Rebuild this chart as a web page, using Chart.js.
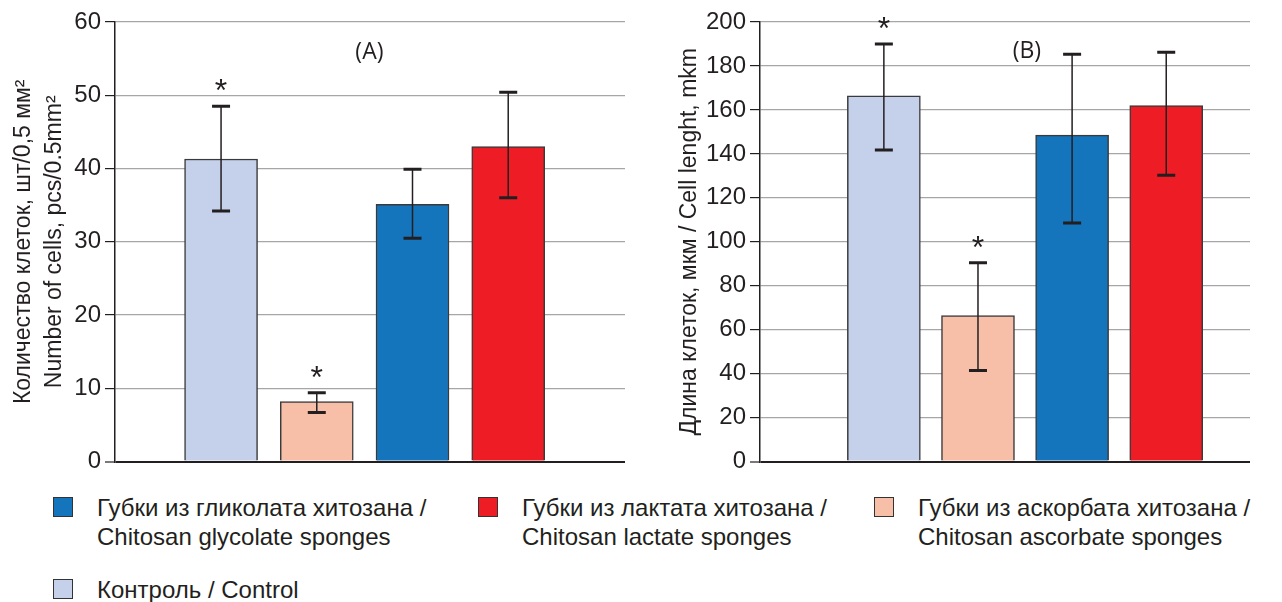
<!DOCTYPE html>
<html>
<head>
<meta charset="utf-8">
<script src="https://cdn.jsdelivr.net/npm/chart.js@4.4.0/dist/chart.umd.min.js"></script>
<style>
  body { margin: 0; background: #fff; font-family: "Liberation Sans", Arial, sans-serif; color: #231f20; }
  #wrap { position: relative; width: 1282px; height: 602px; }
  .box { position: absolute; top: 0; height: 480px; }
  #boxA { left: 0; width: 640px; }
  #boxB { left: 640px; width: 642px; }
  .leg { position: absolute; font-size: 24px; line-height: 29px; white-space: nowrap; }
  .leg i { position: absolute; left: -44px; top: 4px; width: 18px; height: 18px; border: 1.5px solid #333; }
</style>
</head>
<body>
<div id="wrap">
  <div class="box" id="boxA"><canvas id="chartA"></canvas></div>
  <div class="box" id="boxB"><canvas id="chartB"></canvas></div>
  <div class="leg" style="left:97px; top:493px;"><i style="background:#1474bc"></i>Губки из гликолата хитозана /<br>Chitosan glycolate sponges</div>
  <div class="leg" style="left:522px; top:493px;"><i style="background:#ee1c25"></i>Губки из лактата хитозана /<br>Chitosan lactate sponges</div>
  <div class="leg" style="left:918px; top:493px;"><i style="background:#f8bfa8"></i>Губки из аскорбата хитозана /<br>Chitosan ascorbate sponges</div>
  <div class="leg" style="left:97px; top:575px;"><i style="background:#c5d0ea"></i>Контроль / Control</div>
</div>
<script>
// groups in the order they stand on the x axis
const categories = ['Контроль', 'Аскорбат', 'Гликолат', 'Лактат'];
const positions = [1, 2, 3, 4];
const barColors = ['#c5d0ea', '#f8bfa8', '#1474bc', '#ee1c25'];

// (A) number of cells, pcs/0.5mm2
const countMean = [41.3, 8.2, 35.1, 43.0];
const countHigh = [48.5, 9.4, 39.9, 50.4];
const countLow = [34.2, 6.7, 30.5, 36.0];
const countStar = [true, true, false, false];
const countTicks = [0, 10, 20, 30, 40, 50, 60];

// (B) cell length, mkm
const lengthMean = [166.4, 66.4, 148.5, 162.0];
const lengthHigh = [190.0, 90.5, 185.3, 186.2];
const lengthLow = [141.8, 41.4, 108.5, 130.3];
const lengthStar = [true, true, false, false];
const lengthTicks = [0, 20, 40, 60, 80, 100, 120, 140, 160, 180, 200];

const ink = '#231f20';

// error bars, asterisks and the panel letter
const extras = {
  id: 'extras',
  afterDatasetsDraw(chart, args, opts) {
    const c = chart.ctx, xs = chart.scales.x, ys = chart.scales.y;
    c.save();
    opts.high.forEach((h, i) => {
      const x = xs.getPixelForValue(positions[i]);
      const top = ys.getPixelForValue(h);
      const bot = ys.getPixelForValue(opts.low[i]);
      c.strokeStyle = ink;
      c.lineWidth = 1.5;
      c.beginPath(); c.moveTo(x, top); c.lineTo(x, bot); c.stroke();
      c.lineWidth = 3;
      c.beginPath();
      c.moveTo(x - 9, top); c.lineTo(x + 9, top);
      c.moveTo(x - 9, bot); c.lineTo(x + 9, bot);
      c.stroke();
      if (opts.star[i]) {
        c.fillStyle = ink;
        c.font = '32px "Liberation Sans", Arial, sans-serif';
        c.textAlign = 'center';
        c.textBaseline = 'alphabetic';
        c.fillText('*', x, top - 5);
      }
    });
    c.fillStyle = ink;
    c.font = '23px "Open Sans", sans-serif';
    c.textAlign = 'center';
    c.textBaseline = 'middle';
    c.fillText(opts.letter, xs.getPixelForValue(opts.letterAt[0]), ys.getPixelForValue(opts.letterAt[1]));
    c.restore();
  }
};

function makeChart(id, mean, high, low, star, ticks, title, letter, letterAt, xmin, xmax, axisW, pad) {
  return new Chart(document.getElementById(id), {
    type: 'bar',
    data: {
      datasets: [{
        data: positions.map((p, i) => ({ x: p, y: mean[i] })),
        backgroundColor: barColors,
        borderColor: '#3a3a3a',
        borderWidth: 1.5,
        borderSkipped: 'bottom',
        barThickness: 73
      }]
    },
    options: {
      responsive: true,
      maintainAspectRatio: false,
      animation: false,
      layout: { padding: pad },
      plugins: { legend: { display: false }, tooltip: { enabled: false }, extras: { high, low, star, letter, letterAt } },
      scales: {
        x: { type: 'linear', min: xmin, max: xmax, offset: false, display: false },
        y: {
          min: ticks[0], max: ticks[ticks.length - 1],
          afterBuildTicks: s => { s.ticks = ticks.map(v => ({ value: v })); },
          afterFit: s => { s.width = axisW; },
          border: { color: ink, width: 1.5 },
          grid: {
            color: c => c.tick && c.tick.value === 0 ? ink : '#a6a6a6',
            lineWidth: c => c.tick && c.tick.value === 0 ? 2 : 1.2,
            tickColor: ink,
            tickLength: 10,
            tickWidth: 1.2
          },
          ticks: { color: ink, padding: 4, font: { size: 24, family: '"Liberation Sans", Arial, sans-serif' } },
          title: { display: true, text: title, color: ink, padding: 0, font: { size: 23, lineHeight: 1.35, family: '"Liberation Sans", Arial, sans-serif' } }
        }
      }
    },
    plugins: [extras]
  });
}

makeChart('chartA', countMean, countHigh, countLow, countStar, countTicks,
  ['Количество клеток, шт/0,5 мм²', 'Number of cells, pcs/0.5mm²'],
  '(A)', [2.55, 55.9], -0.108, 5.22, 107, { left: 8, top: 22, right: 15, bottom: 18 });

makeChart('chartB', lengthMean, lengthHigh, lengthLow, lengthStar, lengthTicks,
  'Длина клеток, мкм / Cell lenght, mkm',
  '(B)', [2.52, 186.4], -0.316, 4.89, 86, { left: 34, top: 22, right: 32, bottom: 18 });
</script>
</body>
</html>
